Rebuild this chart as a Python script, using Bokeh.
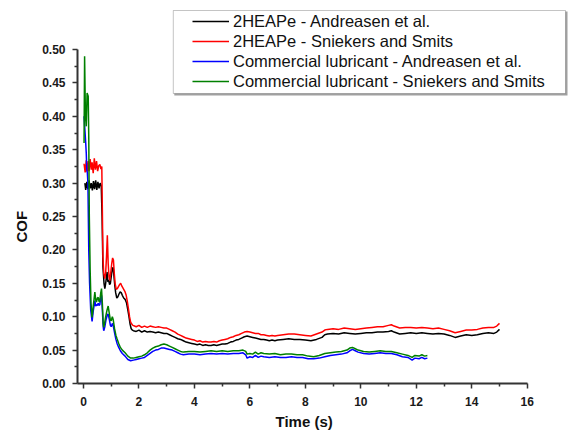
from bokeh.plotting import figure
from bokeh.models import FixedTicker, PrintfTickFormatter, BoxAnnotation, Range1d, Title
from bokeh.embed import file_html
from bokeh.resources import INLINE

# ---------------- data ----------------
series_names = [
    "2HEAPe - Andreasen et al.",
    "2HEAPe - Sniekers and Smits",
    "Commercial lubricant - Andreasen et al.",
    "Commercial lubricant - Sniekers and Smits",
]
series_colors = ["#000000", "#ff0000", "#0000ff", "#008000"]

heap_andreasen = [
    (0.05, 0.300), (0.08, 0.290), (0.12, 0.302), (0.16, 0.291), (0.20, 0.304), (0.24, 0.292),
    (0.28, 0.300), (0.32, 0.289), (0.36, 0.303), (0.40, 0.291), (0.44, 0.304), (0.48, 0.290),
    (0.52, 0.302), (0.56, 0.292), (0.60, 0.300), (0.64, 0.296), (0.67, 0.250), (0.70, 0.175),
    (0.74, 0.150), (0.77, 0.142), (0.80, 0.150), (0.83, 0.160), (0.85, 0.167), (0.88, 0.152),
    (0.91, 0.155), (0.94, 0.148), (0.97, 0.150), (1.00, 0.160), (1.04, 0.172), (1.07, 0.174),
    (1.10, 0.160), (1.13, 0.146), (1.16, 0.136), (1.20, 0.128), (1.24, 0.130), (1.28, 0.134),
    (1.32, 0.137), (1.36, 0.136), (1.40, 0.132), (1.45, 0.128), (1.50, 0.126), (1.55, 0.121),
    (1.60, 0.110), (1.64, 0.100), (1.68, 0.089), (1.72, 0.082), (1.76, 0.080), (1.80, 0.079),
    (1.9, 0.078), (2.0, 0.080), (2.1, 0.077), (2.2, 0.079), (2.3, 0.077), (2.4, 0.078),
    (2.5, 0.077), (2.6, 0.076), (2.7, 0.077), (2.8, 0.076), (2.9, 0.075), (3.0, 0.075),
    (3.1, 0.073), (3.2, 0.071), (3.3, 0.069), (3.4, 0.067), (3.5, 0.066), (3.6, 0.064),
    (3.7, 0.062), (3.8, 0.061), (3.9, 0.060), (4.0, 0.059), (4.1, 0.058), (4.2, 0.059),
    (4.3, 0.057), (4.4, 0.058), (4.5, 0.057), (4.6, 0.057), (4.7, 0.058), (4.8, 0.057),
    (4.9, 0.058), (5.0, 0.059), (5.1, 0.059), (5.2, 0.060), (5.3, 0.062), (5.4, 0.063),
    (5.5, 0.065), (5.6, 0.066), (5.7, 0.068), (5.8, 0.070), (5.9, 0.071), (6.0, 0.070),
    (6.1, 0.069), (6.2, 0.068), (6.3, 0.067), (6.4, 0.066), (6.5, 0.066), (6.6, 0.065),
    (6.7, 0.064), (6.8, 0.065), (6.9, 0.064), (7.0, 0.065), (7.2, 0.066), (7.4, 0.067),
    (7.6, 0.066), (7.8, 0.066), (8.0, 0.065), (8.2, 0.064), (8.4, 0.066), (8.6, 0.069),
    (8.7, 0.073), (8.8, 0.074), (9.0, 0.075), (9.2, 0.074), (9.4, 0.076), (9.6, 0.075),
    (9.8, 0.074), (10.0, 0.075), (10.2, 0.076), (10.4, 0.076), (10.6, 0.077), (10.8, 0.077),
    (11.0, 0.078), (11.1, 0.079), (11.2, 0.077), (11.4, 0.074), (11.6, 0.075), (11.8, 0.076),
    (12.0, 0.075), (12.2, 0.076), (12.4, 0.075), (12.6, 0.074), (12.8, 0.075), (13.0, 0.074),
    (13.2, 0.072), (13.4, 0.069), (13.6, 0.071), (13.8, 0.073), (14.0, 0.072), (14.2, 0.073),
    (14.4, 0.075), (14.6, 0.076), (14.8, 0.075), (14.9, 0.077), (15.0, 0.081),
]

heap_sniekers = [
    (0.02, 0.329), (0.06, 0.316), (0.10, 0.334), (0.13, 0.317), (0.17, 0.333), (0.20, 0.318),
    (0.24, 0.336), (0.28, 0.320), (0.31, 0.331), (0.35, 0.315), (0.39, 0.337), (0.43, 0.320),
    (0.47, 0.333), (0.51, 0.318), (0.55, 0.326), (0.59, 0.328), (0.63, 0.321), (0.66, 0.325),
    (0.68, 0.260), (0.70, 0.190), (0.73, 0.165), (0.77, 0.157), (0.80, 0.166), (0.83, 0.190),
    (0.86, 0.222), (0.89, 0.180), (0.92, 0.160), (0.95, 0.154), (0.98, 0.165), (1.02, 0.180),
    (1.05, 0.188), (1.08, 0.185), (1.11, 0.165), (1.14, 0.150), (1.18, 0.141), (1.22, 0.142),
    (1.26, 0.145), (1.30, 0.148), (1.34, 0.150), (1.38, 0.146), (1.42, 0.143), (1.46, 0.140),
    (1.50, 0.137), (1.54, 0.132), (1.58, 0.123), (1.62, 0.112), (1.66, 0.100), (1.70, 0.092),
    (1.74, 0.089), (1.78, 0.087), (1.84, 0.086),
    (1.9, 0.085), (2.0, 0.087), (2.1, 0.084), (2.2, 0.086), (2.3, 0.084), (2.4, 0.086),
    (2.5, 0.085), (2.6, 0.084), (2.7, 0.085), (2.8, 0.084), (2.9, 0.083), (3.0, 0.083),
    (3.1, 0.081), (3.2, 0.079), (3.3, 0.077), (3.4, 0.074), (3.5, 0.072), (3.6, 0.070),
    (3.7, 0.068), (3.8, 0.067), (3.9, 0.066), (4.0, 0.065), (4.1, 0.063), (4.2, 0.064),
    (4.3, 0.062), (4.4, 0.063), (4.5, 0.062), (4.6, 0.062), (4.7, 0.063), (4.8, 0.062),
    (4.9, 0.064), (5.0, 0.065), (5.1, 0.066), (5.2, 0.067), (5.3, 0.069), (5.4, 0.070),
    (5.5, 0.072), (5.6, 0.073), (5.7, 0.075), (5.8, 0.077), (5.9, 0.078), (6.0, 0.077),
    (6.1, 0.076), (6.2, 0.075), (6.3, 0.075), (6.4, 0.073), (6.5, 0.073), (6.6, 0.072),
    (6.7, 0.071), (6.8, 0.072), (6.9, 0.071), (7.0, 0.072), (7.2, 0.073), (7.4, 0.074),
    (7.6, 0.074), (7.8, 0.073), (8.0, 0.072), (8.2, 0.071), (8.4, 0.074), (8.6, 0.077),
    (8.7, 0.080), (8.8, 0.081), (9.0, 0.082), (9.2, 0.081), (9.4, 0.083), (9.6, 0.082),
    (9.8, 0.081), (10.0, 0.082), (10.2, 0.083), (10.4, 0.084), (10.6, 0.085), (10.8, 0.085),
    (11.0, 0.087), (11.1, 0.088), (11.2, 0.086), (11.4, 0.083), (11.6, 0.084), (11.8, 0.084),
    (12.0, 0.083), (12.2, 0.084), (12.4, 0.083), (12.6, 0.082), (12.8, 0.083), (13.0, 0.081),
    (13.2, 0.079), (13.4, 0.076), (13.6, 0.078), (13.8, 0.080), (14.0, 0.080), (14.2, 0.081),
    (14.4, 0.083), (14.6, 0.084), (14.8, 0.084), (14.9, 0.086), (15.0, 0.090),
]

comm_andreasen = [
    (0.02, 0.400), (0.05, 0.380), (0.08, 0.360), (0.10, 0.345), (0.12, 0.320), (0.14, 0.315),
    (0.16, 0.300), (0.19, 0.200), (0.22, 0.150), (0.26, 0.110), (0.31, 0.093), (0.35, 0.108),
    (0.41, 0.124), (0.44, 0.116), (0.47, 0.118), (0.50, 0.117), (0.53, 0.120), (0.56, 0.117),
    (0.59, 0.118), (0.62, 0.128), (0.65, 0.132), (0.68, 0.110), (0.71, 0.085), (0.73, 0.079),
    (0.77, 0.085), (0.81, 0.095), (0.86, 0.103), (0.89, 0.104), (0.93, 0.096), (0.97, 0.087),
    (1.00, 0.085), (1.04, 0.090), (1.07, 0.087), (1.12, 0.076), (1.17, 0.066), (1.21, 0.060),
    (1.27, 0.054), (1.33, 0.049), (1.40, 0.045), (1.50, 0.041), (1.60, 0.036), (1.70, 0.034),
    (1.8, 0.035), (1.9, 0.036), (2.0, 0.037), (2.1, 0.038), (2.2, 0.039), (2.3, 0.042),
    (2.4, 0.045), (2.5, 0.048), (2.6, 0.050), (2.7, 0.051), (2.8, 0.053), (2.9, 0.053),
    (3.0, 0.052), (3.1, 0.051), (3.2, 0.050), (3.3, 0.048), (3.4, 0.046), (3.5, 0.044),
    (3.6, 0.043), (3.8, 0.044), (4.0, 0.044), (4.2, 0.043), (4.4, 0.044), (4.6, 0.045),
    (4.8, 0.044), (5.0, 0.045), (5.2, 0.044), (5.4, 0.045), (5.6, 0.045), (5.75, 0.046),
    (5.85, 0.043), (5.9, 0.038), (6.0, 0.040), (6.1, 0.039), (6.2, 0.042), (6.3, 0.039),
    (6.4, 0.041), (6.5, 0.040), (6.7, 0.039), (6.9, 0.040), (7.1, 0.039), (7.3, 0.039),
    (7.5, 0.040), (7.7, 0.039), (7.9, 0.039), (8.1, 0.037), (8.3, 0.037), (8.5, 0.038),
    (8.7, 0.040), (8.9, 0.042), (9.1, 0.043), (9.3, 0.044), (9.5, 0.046), (9.6, 0.049),
    (9.7, 0.051), (9.8, 0.049), (9.9, 0.047), (10.1, 0.045), (10.3, 0.044), (10.5, 0.045),
    (10.7, 0.046), (10.9, 0.045), (11.1, 0.045), (11.3, 0.043), (11.5, 0.040), (11.7, 0.039),
    (11.85, 0.035), (11.95, 0.038), (12.1, 0.037), (12.2, 0.039), (12.3, 0.037), (12.4, 0.038),
]

comm_sniekers = [
    (0.02, 0.360), (0.04, 0.490), (0.07, 0.400), (0.10, 0.385), (0.13, 0.435), (0.17, 0.430),
    (0.19, 0.370), (0.21, 0.250), (0.24, 0.170), (0.27, 0.120), (0.31, 0.099), (0.35, 0.115),
    (0.41, 0.137), (0.44, 0.125), (0.47, 0.122), (0.50, 0.128), (0.53, 0.129), (0.56, 0.123),
    (0.58, 0.122), (0.62, 0.135), (0.65, 0.142), (0.68, 0.120), (0.71, 0.090), (0.73, 0.084),
    (0.76, 0.090), (0.80, 0.100), (0.85, 0.110), (0.89, 0.116), (0.93, 0.105), (0.97, 0.095),
    (1.00, 0.094), (1.04, 0.100), (1.07, 0.096), (1.12, 0.082), (1.17, 0.072), (1.21, 0.067),
    (1.27, 0.060), (1.33, 0.054), (1.40, 0.050), (1.50, 0.046), (1.60, 0.041), (1.70, 0.038),
    (1.8, 0.038), (1.9, 0.039), (2.0, 0.040), (2.1, 0.041), (2.2, 0.043), (2.3, 0.046),
    (2.4, 0.050), (2.5, 0.053), (2.6, 0.055), (2.7, 0.056), (2.8, 0.058), (2.9, 0.059),
    (3.0, 0.058), (3.1, 0.056), (3.2, 0.054), (3.3, 0.052), (3.4, 0.050), (3.5, 0.048),
    (3.6, 0.047), (3.8, 0.048), (4.0, 0.048), (4.2, 0.047), (4.4, 0.048), (4.6, 0.049),
    (4.8, 0.048), (5.0, 0.049), (5.2, 0.048), (5.4, 0.049), (5.6, 0.049), (5.75, 0.050),
    (5.85, 0.048), (5.9, 0.044), (6.0, 0.045), (6.1, 0.044), (6.2, 0.047), (6.3, 0.044),
    (6.4, 0.046), (6.5, 0.045), (6.7, 0.044), (6.9, 0.045), (7.1, 0.043), (7.3, 0.044),
    (7.5, 0.044), (7.7, 0.043), (7.9, 0.043), (8.1, 0.041), (8.3, 0.040), (8.5, 0.042),
    (8.7, 0.045), (8.9, 0.046), (9.1, 0.047), (9.3, 0.048), (9.5, 0.050), (9.6, 0.053),
    (9.7, 0.054), (9.8, 0.052), (9.9, 0.050), (10.1, 0.048), (10.3, 0.047), (10.5, 0.048),
    (10.7, 0.049), (10.9, 0.048), (11.1, 0.048), (11.3, 0.046), (11.5, 0.044), (11.7, 0.042),
    (11.85, 0.039), (11.95, 0.042), (12.1, 0.041), (12.2, 0.043), (12.3, 0.041), (12.4, 0.042),
]

y_ticks = [0.0, 0.05, 0.10, 0.15, 0.20, 0.25, 0.30, 0.35, 0.40, 0.45, 0.50]
y_minor = [0.025, 0.075, 0.125, 0.175, 0.225, 0.275, 0.325, 0.375, 0.425, 0.475]
x_ticks = [0, 2, 4, 6, 8, 10, 12, 14, 16]
x_minor = [1, 3, 5, 7, 9, 11, 13, 15]

# ---------------- figure ----------------
# frame: 492 x 375 px; the axes themselves span x in [-0.216, 16] and y in [0, 0.5]
X0, X1 = -0.216, 17.488
Y0, Y1 = 0.0, 0.5614
FONT = "Liberation Sans"

p = figure(width=568, height=435, output_backend="svg", toolbar_location=None,
           x_range=Range1d(X0, X1), y_range=Range1d(Y0, Y1),
           min_border_left=76, min_border_right=0, min_border_top=8, min_border_bottom=52,
           background_fill_color="white", border_fill_color="white")
p.outline_line_color = None
p.xgrid.visible = False
p.ygrid.visible = False

def dx(px):
    return X0 + (px - 76) * (X1 - X0) / 492.0

def dy(py):
    return Y0 + (383 - py) * (Y1 - Y0) / 375.0

shadow = BoxAnnotation(left=dx(173), right=dx(567), top=dy(11), bottom=dy(95),
                       fill_color="#a0a0a0", fill_alpha=1.0, line_alpha=0)
box = BoxAnnotation(left=dx(172), right=dx(565), top=dy(10), bottom=dy(93),
                    fill_color="white", fill_alpha=1.0, line_color="#3a3a3a", line_width=1)
p.add_layout(shadow)
p.add_layout(box)

for pts, name, col in zip([heap_andreasen, heap_sniekers, comm_andreasen, comm_sniekers],
                          series_names, series_colors):
    xs = [a for a, b in pts]
    ys = [b for a, b in pts]
    p.line(xs, ys, line_color=col, line_width=1.5, legend_label=name)

# axes
p.xaxis.ticker = FixedTicker(ticks=x_ticks, minor_ticks=x_minor)
p.yaxis.ticker = FixedTicker(ticks=y_ticks, minor_ticks=y_minor)
p.yaxis.formatter = PrintfTickFormatter(format="%.2f")

for ax in (p.xaxis[0], p.yaxis[0]):
    ax.axis_line_width = 2
    ax.axis_line_color = "#333333"
    ax.major_tick_line_color = "#333333"
    ax.minor_tick_line_color = "#333333"
    ax.major_tick_line_width = 1.5
    ax.minor_tick_line_width = 1.5
    ax.major_tick_out = 5
    ax.major_tick_in = 0
    ax.minor_tick_out = 3
    ax.minor_tick_in = 0
    ax.major_label_text_font = FONT
    ax.major_label_text_font_style = "bold"
    ax.major_label_text_font_size = "12px"
    ax.major_label_text_color = "#1a1a1a"

p.xaxis.bounds = (X0, 16)
p.yaxis.bounds = (0, 0.5)
p.yaxis.major_label_standoff = 7
p.xaxis.major_label_standoff = 8

# axis titles, placed along the drawn axes (offset measured from the frame's start)
ylab = Title(text="COF", align="left", offset=141, text_font=FONT,
             text_font_size="15px", text_font_style="bold", text_color="#111111", standoff=20)
xlab = Title(text="Time (s)", align="left", offset=198, text_font=FONT,
             text_font_size="15px", text_font_style="bold", text_color="#111111", standoff=4)
p.add_layout(ylab, "left")
p.add_layout(xlab, "below")

leg = p.legend[0]
leg.location = (114, 291)
leg.margin = 0
leg.padding = 1
leg.spacing = 0
leg.label_height = 20
leg.glyph_height = 20
leg.glyph_width = 37
leg.label_standoff = 4
leg.label_text_font = FONT
leg.label_text_font_size = "16.5px"
leg.label_text_color = "#111111"
leg.border_line_alpha = 0
leg.background_fill_alpha = 0

open("out.html", "w").write(file_html(p, INLINE))
